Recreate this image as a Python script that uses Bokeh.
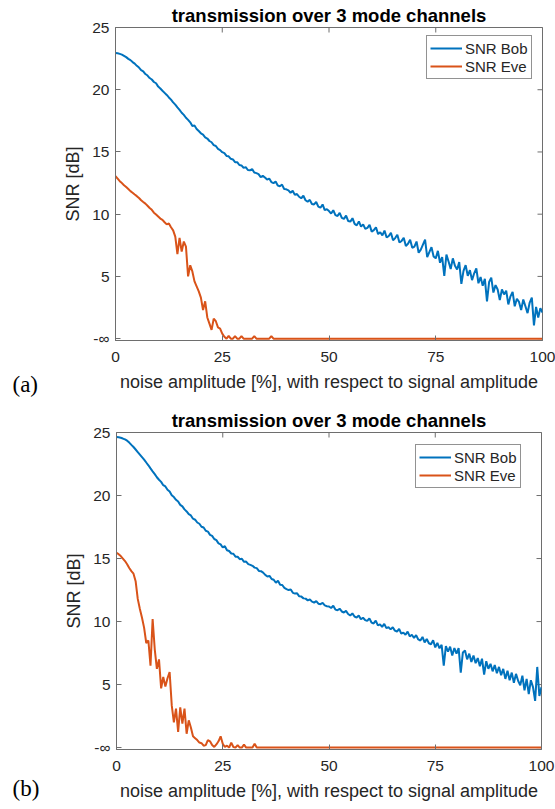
import math
from bokeh.plotting import figure
from bokeh.layouts import column, row
from bokeh.models import Legend, LegendItem, FixedTicker, Range1d
from bokeh.core.properties import value
from bokeh.embed import file_html
from bokeh.resources import INLINE

# ---------------- data ----------------
noise_amplitude = [i * 0.5 for i in range(201)]  # 0 .. 100 % in 0.5 % steps

snr_bob_a = [
    22.95, 22.93, 22.88, 22.82, 22.72, 22.62, 22.48, 22.38, 22.22, 22.10,
    21.92, 21.78, 21.58, 21.48, 21.26, 21.14, 20.94, 20.82, 20.62, 20.52,
    20.25, 20.10, 19.92, 19.75, 19.58, 19.38, 19.20, 18.98, 18.80, 18.58,
    18.38, 18.15, 17.98, 17.75, 17.58, 17.38, 17.08, 17.12, 16.85, 16.68,
    16.50, 16.40, 16.18, 16.08, 15.88, 15.78, 15.55, 15.48, 15.25, 15.15,
    14.98, 14.90, 14.68, 14.65, 14.45, 14.40, 14.18, 14.18, 13.95, 13.92,
    13.72, 13.78, 13.55, 13.52, 13.62, 13.35, 13.30, 13.22, 12.98, 13.08,
    12.95, 12.78, 12.86, 12.58, 12.50, 12.62, 12.30, 12.25, 12.38, 12.02,
    12.00, 11.92, 11.72, 11.88, 11.55, 11.62, 11.40, 11.28, 11.48, 11.12,
    11.00, 11.15, 10.82, 10.78, 10.98, 10.60, 10.52, 10.78, 10.32, 10.40,
    10.25, 10.05, 10.32, 9.92, 9.85, 10.10, 9.70, 9.62, 9.88, 9.45,
    9.40, 9.68, 9.22, 9.10, 9.42, 9.00, 9.18, 8.82, 8.90, 9.15,
    8.60, 8.72, 8.95, 8.40, 8.55, 8.30, 8.68, 8.12, 8.25, 8.50,
    7.90, 8.08, 8.35, 7.72, 7.85, 8.10, 7.45, 7.62, 7.95, 7.30,
    7.40, 7.80, 6.90, 7.15, 7.55, 7.95, 6.55, 6.95, 7.35, 6.60,
    6.45, 7.05, 6.10, 6.55, 5.05, 6.75, 6.20, 5.60, 6.45, 5.85,
    5.55, 6.15, 4.40, 5.45, 5.90, 5.05, 5.50, 4.70, 5.25, 5.65,
    4.45, 4.95, 4.25, 4.80, 3.00, 4.55, 4.90, 3.70, 4.30, 3.95,
    3.10, 3.95, 3.55, 3.85, 2.75, 3.40, 3.75, 2.60, 3.20, 2.95,
    2.30, 3.15, 2.60, 2.05, 2.90, 3.30, 1.06, 2.55, 1.70, 2.45,
    2.10,
]

snr_eve_a = [
    13.05, 12.85, 12.65, 12.50, 12.32, 12.18, 12.02, 11.85, 11.72, 11.58,
    11.45, 11.30, 11.12, 10.98, 10.85, 10.68, 10.50, 10.35, 10.12, 9.98,
    9.82, 9.65, 9.55, 9.35, 9.18, 9.25, 8.95, 8.70, 8.20, 6.80,
    8.10, 7.00, 7.80, 7.40, 5.00, 5.90, 5.40, 4.60, 4.20, 3.80,
    3.30, 2.30, 3.00, 1.70, 1.20, 0.70, 1.60, 1.40, 0.90, 0.80,
    0.40, 0.15, 0.00, 0.22, 0.00, 0.00, 0.20, 0.00, 0.00, 0.20,
    0.00, 0.00, 0.00, 0.00, 0.00, 0.20, 0.00, 0.00, 0.00, 0.00,
    0.00, 0.00, 0.00, 0.20, 0.00, 0.00, 0.00, 0.00, 0.00, 0.00,
    0.00, 0.00, 0.00, 0.00, 0.00, 0.00, 0.00, 0.00, 0.00, 0.00,
    0.00, 0.00, 0.00, 0.00, 0.00, 0.00, 0.00, 0.00, 0.00, 0.00,
    0.00, 0.00, 0.00, 0.00, 0.00, 0.00, 0.00, 0.00, 0.00, 0.00,
    0.00, 0.00, 0.00, 0.00, 0.00, 0.00, 0.00, 0.00, 0.00, 0.00,
    0.00, 0.00, 0.00, 0.00, 0.00, 0.00, 0.00, 0.00, 0.00, 0.00,
    0.00, 0.00, 0.00, 0.00, 0.00, 0.00, 0.00, 0.00, 0.00, 0.00,
    0.00, 0.00, 0.00, 0.00, 0.00, 0.00, 0.00, 0.00, 0.00, 0.00,
    0.00, 0.00, 0.00, 0.00, 0.00, 0.00, 0.00, 0.00, 0.00, 0.00,
    0.00, 0.00, 0.00, 0.00, 0.00, 0.00, 0.00, 0.00, 0.00, 0.00,
    0.00, 0.00, 0.00, 0.00, 0.00, 0.00, 0.00, 0.00, 0.00, 0.00,
    0.00, 0.00, 0.00, 0.00, 0.00, 0.00, 0.00, 0.00, 0.00, 0.00,
    0.00, 0.00, 0.00, 0.00, 0.00, 0.00, 0.00, 0.00, 0.00, 0.00,
    0.00,
]

snr_bob_b = [
    24.65, 24.62, 24.58, 24.52, 24.45, 24.35, 24.20, 24.02, 23.85, 23.65,
    23.45, 23.25, 23.05, 22.85, 22.62, 22.40, 22.15, 21.92, 21.70, 21.45,
    21.25, 21.08, 20.82, 20.72, 20.46, 20.32, 20.02, 19.88, 19.66, 19.52,
    19.26, 19.14, 18.90, 18.74, 18.52, 18.42, 18.16, 18.08, 17.86, 17.76,
    17.52, 17.46, 17.20, 17.14, 16.88, 16.80, 16.55, 16.46, 16.20, 16.12,
    15.88, 15.98, 15.66, 15.60, 15.40, 15.38, 15.15, 15.14, 14.95, 14.98,
    14.74, 14.76, 14.56, 14.50, 14.42, 14.28, 14.24, 14.02, 14.00, 13.88,
    13.70, 13.58, 13.62, 13.38, 13.32, 13.08, 13.24, 12.92, 12.90, 12.68,
    12.58, 12.50, 12.55, 12.28, 12.22, 12.24, 12.00, 11.98, 11.84, 11.82,
    11.68, 11.75, 11.58, 11.50, 11.62, 11.42, 11.38, 11.48, 11.28, 11.22,
    11.20, 11.08, 11.25, 10.95, 10.90, 11.02, 10.80, 10.72, 10.85, 10.60,
    10.48, 10.65, 10.40, 10.32, 10.48, 10.18, 10.30, 10.12, 10.05, 10.25,
    9.92, 9.85, 10.08, 9.70, 9.78, 9.58, 9.82, 9.48, 9.55, 9.38,
    9.55, 9.28, 9.20, 9.42, 9.05, 9.12, 8.95, 9.20, 8.82, 8.95,
    8.70, 8.92, 8.58, 8.50, 8.78, 8.35, 8.62, 8.28, 8.20, 8.52,
    7.95, 8.30, 7.88, 8.15, 6.50, 8.05, 7.62, 8.00, 7.30, 7.90,
    7.45, 7.90, 5.95, 7.55, 7.70, 7.00, 7.45, 6.80, 7.30, 6.70,
    7.10, 6.45, 7.05, 5.80, 6.85, 6.25, 6.65, 6.05, 6.55, 5.90,
    6.40, 5.75, 6.25, 5.45, 6.10, 5.35, 5.95, 5.15, 5.85, 5.30,
    4.95, 5.70, 4.55, 5.45, 4.25, 5.35, 4.80, 3.70, 6.40, 4.10,
    4.80,
]

snr_eve_b = [
    15.45, 15.35, 15.20, 15.00, 14.80, 14.55, 14.25, 14.00, 13.80, 13.20,
    11.80, 11.00, 10.30, 9.50, 8.30, 8.50, 6.50, 10.20, 7.80, 6.25,
    7.00, 4.70, 5.60, 4.85, 5.50, 6.00, 3.35, 2.00, 3.10, 1.25,
    3.20, 1.90, 3.10, 1.10, 2.16, 1.60, 0.90, 0.75, 0.60, 0.40,
    0.35, 0.15, 0.20, 0.60, 0.50, 0.20, 0.05, 0.25, 0.50, 0.90,
    0.30, 0.05, 0.15, 0.00, 0.40, 0.05, 0.00, 0.20, 0.00, 0.00,
    0.25, 0.00, 0.00, 0.00, 0.00, 0.30, 0.00, 0.00, 0.00, 0.00,
    0.00, 0.00, 0.00, 0.00, 0.00, 0.00, 0.00, 0.00, 0.00, 0.00,
    0.00, 0.00, 0.00, 0.00, 0.00, 0.00, 0.00, 0.00, 0.00, 0.00,
    0.00, 0.00, 0.00, 0.00, 0.00, 0.00, 0.00, 0.00, 0.00, 0.00,
    0.00, 0.00, 0.00, 0.00, 0.00, 0.00, 0.00, 0.00, 0.00, 0.00,
    0.00, 0.00, 0.00, 0.00, 0.00, 0.00, 0.00, 0.00, 0.00, 0.00,
    0.00, 0.00, 0.00, 0.00, 0.00, 0.00, 0.00, 0.00, 0.00, 0.00,
    0.00, 0.00, 0.00, 0.00, 0.00, 0.00, 0.00, 0.00, 0.00, 0.00,
    0.00, 0.00, 0.00, 0.00, 0.00, 0.00, 0.00, 0.00, 0.00, 0.00,
    0.00, 0.00, 0.00, 0.00, 0.00, 0.00, 0.00, 0.00, 0.00, 0.00,
    0.00, 0.00, 0.00, 0.00, 0.00, 0.00, 0.00, 0.00, 0.00, 0.00,
    0.00, 0.00, 0.00, 0.00, 0.00, 0.00, 0.00, 0.00, 0.00, 0.00,
    0.00, 0.00, 0.00, 0.00, 0.00, 0.00, 0.00, 0.00, 0.00, 0.00,
    0.00, 0.00, 0.00, 0.00, 0.00, 0.00, 0.00, 0.00, 0.00, 0.00,
    0.00,
]

x_ticks = [0, 25, 50, 75, 100]
y_ticks = [0, 5, 10, 15, 20, 25]
y_tick_labels = {0: "-\u221e"}
title_text = "transmission over 3 mode channels"
x_label = "noise amplitude [%], with respect to signal amplitude"
y_label = "SNR [dB]"
series_names = ["SNR Bob", "SNR Eve"]
panel_tags = ["(a)", "(b)"]

BLUE = "#0072BD"
ORANGE = "#D95319"
AXIS_GRAY = "#6e6e6e"
TEXT = "#262626"
FONT = "Liberation Sans"
TAG_W = 45


def make_tag(tag, height, tag_y):
    t = figure(width=TAG_W, height=height, output_backend="svg", toolbar_location=None,
               x_axis_type=None, y_axis_type=None, title=None,
               x_range=Range1d(0, TAG_W), y_range=Range1d(0, height),
               min_border=0, min_border_left=0, min_border_right=0,
               min_border_top=0, min_border_bottom=0)
    t.frame_align = False
    t.grid.visible = False
    t.outline_line_color = None
    t.background_fill_color = "white"
    t.border_fill_color = "white"
    t.text(x=[12], y=[tag_y], text=[tag], text_font=value("Liberation Serif"),
           text_font_size="23px", text_color="#000000",
           text_align="left", text_baseline="middle")
    return t


def make_panel(bob, eve, height, border, legend_loc):
    left, right, top, bottom = border
    p = figure(width=555 - TAG_W, height=height, output_backend="svg", toolbar_location=None,
               x_range=Range1d(0, 100), y_range=Range1d(-0.15, 25),
               min_border_left=left, min_border_right=right,
               min_border_top=top, min_border_bottom=bottom,
               title=title_text)
    p.frame_align = False
    p.title.align = "center"
    p.title.text_font = FONT
    p.title.text_font_size = "18.5px"
    p.title.text_font_style = "bold"
    p.title.text_color = "#000000"
    p.title.offset = 0
    p.title.standoff = 3
    p.grid.visible = False
    p.outline_line_color = AXIS_GRAY
    p.outline_line_alpha = 1.0
    p.background_fill_color = "white"
    p.border_fill_color = "white"

    p.xaxis.ticker = FixedTicker(ticks=x_ticks)
    p.yaxis.ticker = FixedTicker(ticks=y_ticks)
    p.yaxis.major_label_overrides = y_tick_labels
    for ax in (p.xaxis[0], p.yaxis[0]):
        ax.axis_line_color = AXIS_GRAY
        ax.major_tick_line_color = AXIS_GRAY
        ax.major_tick_in = 5
        ax.major_tick_out = 0
        ax.minor_tick_line_color = None
        ax.major_label_text_font = FONT
        ax.major_label_text_font_size = "15.5px"
        ax.major_label_text_color = TEXT
        ax.axis_label_text_font = FONT
        ax.axis_label_text_font_size = "18px"
        ax.axis_label_text_font_style = "normal"
        ax.axis_label_text_color = TEXT
    p.xaxis.axis_label = x_label
    p.yaxis.axis_label = y_label
    p.xaxis.major_label_standoff = 11
    p.xaxis.axis_label_standoff = 7
    p.yaxis.major_label_standoff = 6
    p.yaxis.axis_label_standoff = 6

    # inward box ticks on the top and right edges (half of each dash is clipped by the frame)
    p.scatter(x=x_ticks, y=[25] * len(x_ticks), marker="dash", size=10, angle=math.pi / 2,
              line_color=AXIS_GRAY, line_width=1)
    p.scatter(x=[100] * len(y_ticks), y=y_ticks, marker="dash", size=10,
              line_color=AXIS_GRAY, line_width=1)

    r_bob = p.line(noise_amplitude, bob, line_color=BLUE, line_width=2)
    r_eve = p.line(noise_amplitude, eve, line_color=ORANGE, line_width=2)

    legend = Legend(items=[LegendItem(label=series_names[0], renderers=[r_bob]),
                           LegendItem(label=series_names[1], renderers=[r_eve])],
                    location=legend_loc)
    legend.label_text_font = FONT
    legend.label_text_font_size = "15px"
    legend.label_text_color = TEXT
    legend.glyph_width = 32
    legend.glyph_height = 18
    legend.label_height = 18
    legend.label_standoff = 3
    legend.spacing = 0
    legend.padding = 3
    legend.margin = 0
    legend.border_line_color = "#262626"
    legend.border_line_width = 1
    legend.background_fill_color = "white"
    legend.background_fill_alpha = 1.0
    p.add_layout(legend, "center")
    return p


pa = make_panel(snr_bob_a, snr_eve_a, 400, (115 - TAG_W, 13, 27, 60), (311, 261))
pb = make_panel(snr_bob_b, snr_eve_b, 409, (116 - TAG_W, 14, 32, 60), (299, 261))
ta = make_tag(panel_tags[0], 400, 400 - 384)
tb = make_tag(panel_tags[1], 409, 409 - 388)

layout = column(row(ta, pa, spacing=0), row(tb, pb, spacing=0), spacing=0)
open("out.html", "w").write(file_html(layout, INLINE))
